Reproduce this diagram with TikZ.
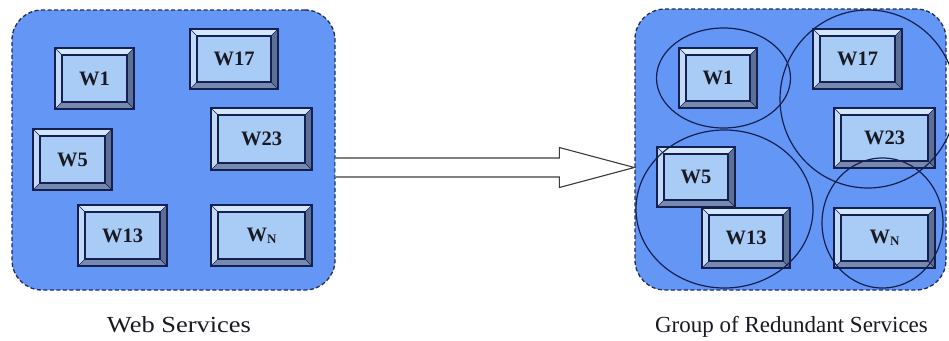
\documentclass[tikz,border=0pt]{standalone}
\usepackage{fontspec}
\setmainfont{Liberation Serif}
\usetikzlibrary{calc,shapes.geometric}

\definecolor{panel}{RGB}{100,150,245}
\definecolor{panelline}{RGB}{35,45,90}
\definecolor{navyline}{RGB}{22,32,80}
\definecolor{face}{RGB}{168,204,246}
\definecolor{bevtop}{RGB}{210,230,252}
\definecolor{bevleft}{RGB}{194,218,248}
\definecolor{bevright}{RGB}{92,112,150}
\definecolor{bevbottom}{RGB}{118,138,176}
\definecolor{arrowline}{RGB}{60,60,60}
\definecolor{inkdark}{RGB}{25,25,35}

\tikzset{
  panelbox/.style={draw=panelline, fill=panel, line width=1.3pt,
    dash pattern=on 4pt off 2.5pt, rounded corners=30pt, inner sep=0pt},
  wsbox/.style={draw=navyline, line width=1.3pt, fill=face, inner sep=0pt,
    text=inkdark, font=\fontsize{20.5}{20.5}\selectfont\bfseries,
    path picture={
      \coordinate (pnw) at (path picture bounding box.north west);
      \coordinate (pne) at (path picture bounding box.north east);
      \coordinate (psw) at (path picture bounding box.south west);
      \coordinate (pse) at (path picture bounding box.south east);
      \coordinate (inw) at ([xshift=7pt,yshift=-7pt]pnw);
      \coordinate (ine) at ([xshift=-7pt,yshift=-7pt]pne);
      \coordinate (isw) at ([xshift=7pt,yshift=7pt]psw);
      \coordinate (ise) at ([xshift=-7pt,yshift=7pt]pse);
      \fill[bevtop] (pnw) -- (pne) -- (ine) -- (inw) -- cycle;
      \fill[bevbottom] (psw) -- (pse) -- (ise) -- (isw) -- cycle;
      \fill[bevleft] (pnw) -- (psw) -- (isw) -- (inw) -- cycle;
      \fill[bevright] (pne) -- (pse) -- (ise) -- (ine) -- cycle;
      \draw[navyline, line width=0.5pt] (pnw) -- (inw) (pne) -- (ine)
        (psw) -- (isw) (pse) -- (ise);
      \draw[navyline, line width=1.1pt] (inw) rectangle (ise);
    }},
  groupring/.style={ellipse, draw=navyline, line width=1.2pt, inner sep=0pt},
  caption/.style={text=inkdark, font=\fontsize{23}{23}\selectfont, anchor=base},
  bigarrow/.style={draw=arrowline, fill=white, line width=1.1pt, line join=miter}
}

\newcommand{\wsub}{W\raisebox{-0.25ex}{\fontsize{13}{13}\selectfont N}}

\begin{document}
\begin{tikzpicture}[x=1pt,y=-1pt]
  \useasboundingbox (0,0) rectangle (949,340);
  \fill[white] (0,0) rectangle (949,340);

  % the two panels
  \node[panelbox, minimum width=323pt, minimum height=280pt] (webs) at (173.5,150) {};
  \node[panelbox, minimum width=311pt, minimum height=281pt] (groups) at (790.5,149.5) {};

  % hollow arrow between the panels
  \coordinate (ay) at (0,167.5);
  \coordinate (tail) at (webs.east |- ay);
  \coordinate (tip) at (groups.west |- ay);
  \draw[bigarrow] ($(tail)+(0,-9.5)$) -- ($(tip)+(-75,-9.5)$) -- ($(tip)+(-75,-20)$)
    -- (tip) -- ($(tip)+(-75,20)$) -- ($(tip)+(-75,9.5)$) -- ($(tail)+(0,9.5)$);

  % services, ungrouped
  \node[wsbox, minimum width=79pt, minimum height=61pt] (a1) at (94.5,78.5) {W1};
  \node[wsbox, minimum width=88pt, minimum height=60pt] (a17) at (234,59) {W17};
  \node[wsbox, minimum width=101pt, minimum height=62pt] (a23) at (261.5,139) {W23};
  \node[wsbox, minimum width=79pt, minimum height=61pt] (a5) at (72.5,159.5) {W5};
  \node[wsbox, minimum width=89pt, minimum height=61pt] (a13) at (122.5,235.5) {W13};
  \node[wsbox, minimum width=101pt, minimum height=61pt] (an) at (261.5,235.5) {\wsub};

  % services, grouped
  \node[wsbox, minimum width=78pt, minimum height=60pt] (b1) at (718,78) {W1};
  \node[wsbox, minimum width=89pt, minimum height=60pt] (b17) at (857.5,59) {W17};
  \node[wsbox, minimum width=101pt, minimum height=60pt] (b23) at (884.5,138) {W23};
  \node[wsbox, minimum width=78pt, minimum height=60pt] (b5) at (696,177) {W5};
  \node[wsbox, minimum width=88pt, minimum height=60pt] (b13) at (746,238) {W13};
  \node[wsbox, minimum width=101pt, minimum height=60pt] (bn) at (884.5,238) {\wsub};

  % redundancy groups
  \node[groupring, minimum width=134pt, minimum height=100pt] (g1) at (723.5,78) {};
  \node[groupring, minimum width=176pt, minimum height=178pt] (g2) at (868,99) {};
  \node[groupring, minimum width=177pt, minimum height=158pt] (g3) at (724.5,209) {};
  \node[groupring, minimum width=121pt, minimum height=130pt] (g4) at (882.5,223) {};

  % captions
  \node[caption, xscale=1.15] (capa) at (179,332) {Web Services};
  \node[caption] (capb) at (791.5,332) {Group of Redundant Services};
\end{tikzpicture}
\end{document}
